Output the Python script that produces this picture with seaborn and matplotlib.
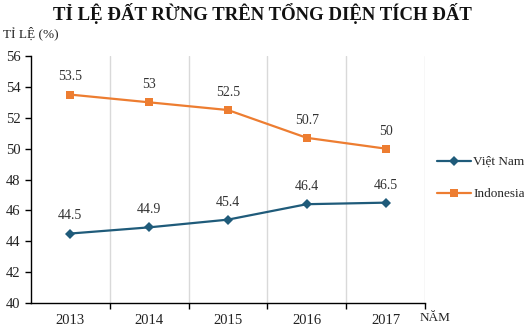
import matplotlib
matplotlib.use("Agg")
import matplotlib.pyplot as plt
import seaborn as sns
import pandas as pd
from matplotlib.ticker import FixedLocator

years = ["2013", "2014", "2015", "2016", "2017"]
vietnam = [44.5, 44.9, 45.4, 46.4, 46.5]
indonesia = [53.5, 53.0, 52.5, 50.7, 50.0]
vn_labels = ["44.5", "44.9", "45.4", "46.4", "46.5"]
id_labels = ["53.5", "53", "52.5", "50.7", "50"]
series_names = ["Việt Nam", "Indonesia"]
colors = ["#1F5B7A", "#ED7D31"]

sns.set_theme(style="white")
plt.rcParams['font.family'] = ['Liberation Serif', 'DejaVu Serif']

rows = []
for i, y in enumerate(years):
    rows.append({"x": i, "year": y, "value": vietnam[i], "series": series_names[0]})
for i, y in enumerate(years):
    rows.append({"x": i, "year": y, "value": indonesia[i], "series": series_names[1]})
df = pd.DataFrame(rows)

fig = plt.figure(figsize=(5.24, 3.31), dpi=100)
ax = fig.add_axes([0.059, 0.0846, 0.752, 0.7462])

sns.lineplot(data=df, x="x", y="value", hue="series", style="series",
             markers={"Việt Nam": "D", "Indonesia": "s"}, dashes=False,
             palette=dict(zip(series_names, colors)), ax=ax,
             linewidth=1.6, markersize=5.5, markeredgewidth=0)

for i in range(len(years)):
    ax.annotate(vn_labels[i], (i, vietnam[i]), xytext=(0, 8), textcoords="offset points",
                ha="center", va="bottom", fontsize=10, color="#333333")
    ax.annotate(id_labels[i], (i, indonesia[i]), xytext=(0, 8), textcoords="offset points",
                ha="center", va="bottom", fontsize=10, color="#333333")

ax.set_xlim(-0.5, 4.5)
ax.set_ylim(40, 56)
ax.set_yticks(range(40, 57, 2))
ax.set_xticks(range(len(years)))
ax.set_xticklabels(years)
ax.xaxis.set_minor_locator(FixedLocator([0.5, 1.5, 2.5, 3.5, 4.5]))
ax.grid(which="minor", axis="x", color="#D9D9D9", linewidth=1)
ax.grid(which="major", visible=False)
ax.tick_params(axis="x", which="major", length=0, labelsize=10.5, pad=8, colors="#222222")
ax.tick_params(axis="x", which="minor", length=4, direction="out", color="black", width=1, bottom=True)
ax.tick_params(axis="y", which="major", length=4, direction="out", color="black", width=1, left=True,
               labelsize=10.5, colors="#222222")

for s in ["top", "right"]:
    ax.spines[s].set_visible(False)
for s in ["left", "bottom"]:
    ax.spines[s].set_color("black")
    ax.spines[s].set_linewidth(1)
ax.set_xlabel("")
ax.set_ylabel("")

leg = ax.legend(loc="center left", bbox_to_anchor=(0.834, 0.462), bbox_transform=fig.transFigure,
                borderaxespad=0, borderpad=0, frameon=False,
                fontsize=9.5, handlelength=2.6, handletextpad=0.15, labelspacing=1.5)

fig.text(0.5, 0.958, "TỈ LỆ ĐẤT RỪNG TRÊN TỔNG DIỆN TÍCH ĐẤT", ha="center", va="center",
         fontsize=13.5, fontweight="bold", color="#111111")
fig.text(0.006, 0.9, "TỈ LỆ (%)", ha="left", va="center", fontsize=9.5, color="#222222")
fig.text(0.80, 0.04, "NĂM", ha="left", va="center", fontsize=9.5, color="#222222")

fig.savefig("out.png", dpi=100)
